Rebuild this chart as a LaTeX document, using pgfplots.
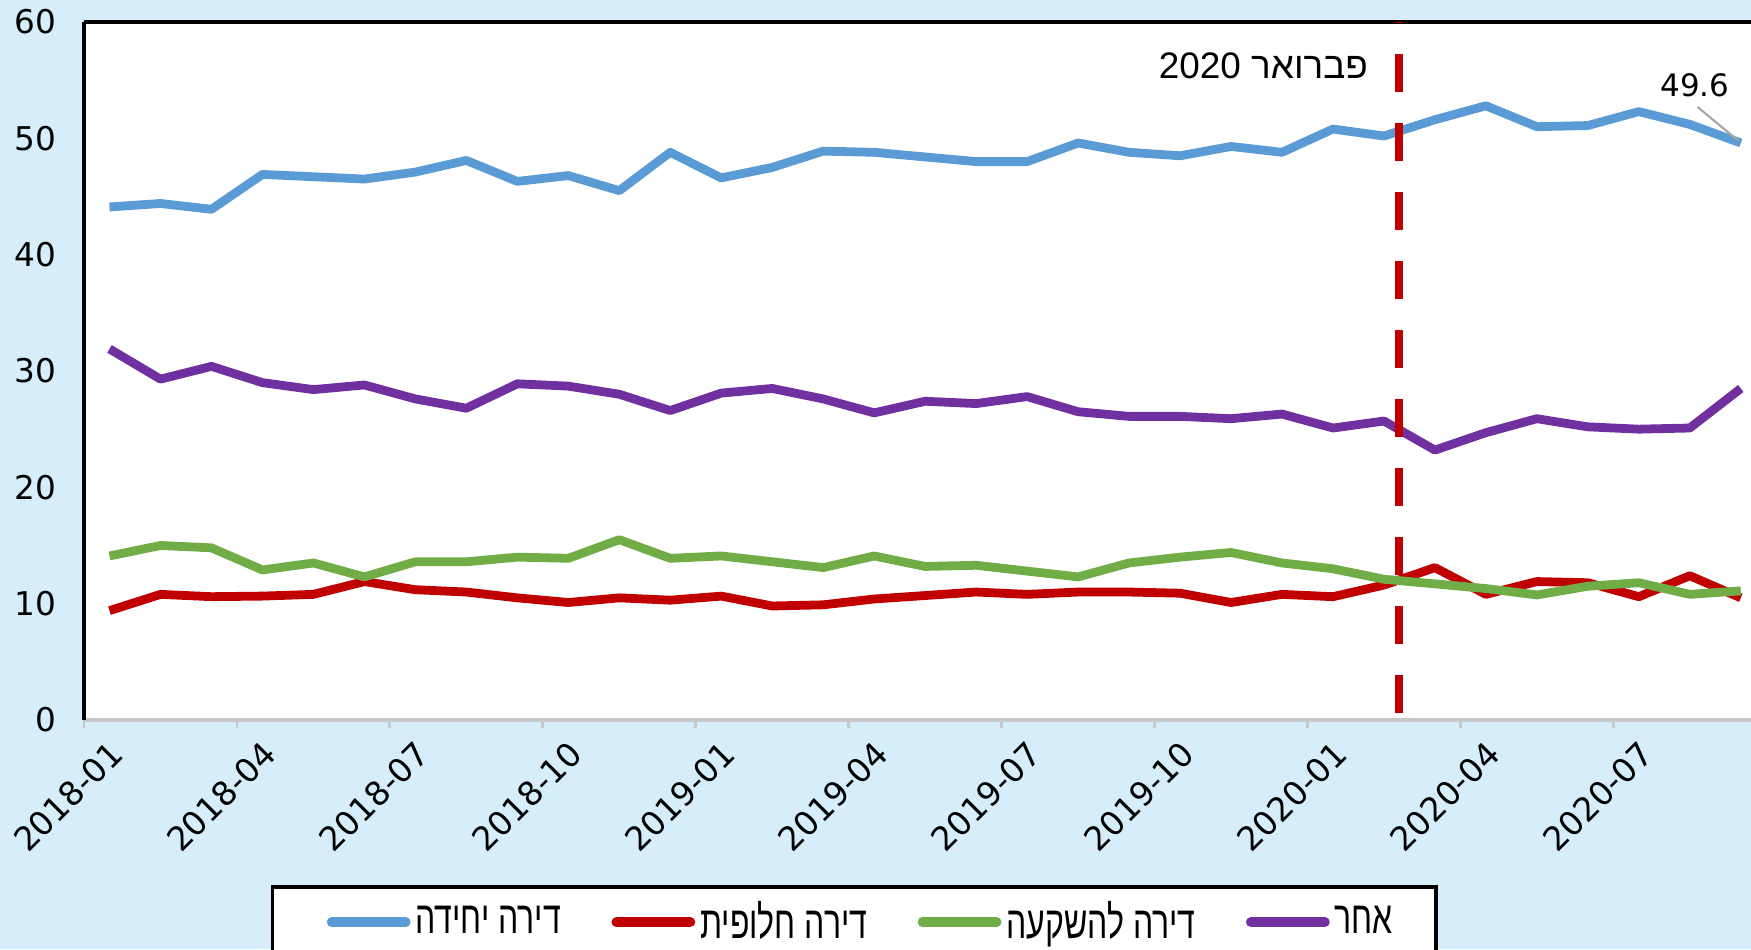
\documentclass[border=0pt]{standalone}
\usepackage{pgfplots}
\usepackage{pgfplotstable}
\pgfplotsset{compat=1.18}
\usepackage{fontspec}
\setmainfont{DejaVu Sans}
\newfontfamily\hebfont[Script=Hebrew]{Liberation Sans}
\newfontfamily\heblegfont[Script=Hebrew,FakeStretch=0.70]{Liberation Sans}
\TeXXeTstate=1
\definecolor{bgblue}{RGB}{213,238,250}
\definecolor{cblue}{RGB}{91,155,213}
\definecolor{cred}{RGB}{192,0,0}
\definecolor{cgreen}{RGB}{112,173,71}
\definecolor{cpurple}{RGB}{112,48,160}
\definecolor{axgray}{RGB}{200,200,200}

\pgfplotstableread{
x    blue  red   green  purple
0.5  44.1  9.4   14.1   31.9
1.5  44.4  10.8  15.0   29.3
2.5  43.9  10.6  14.8   30.4
3.5  46.9  10.65 12.9   29.0
4.5  46.7  10.8  13.5   28.4
5.5  46.5  11.9  12.3   28.8
6.5  47.1  11.2  13.6   27.6
7.5  48.1  11.0  13.6   26.8
8.5  46.3  10.5  14.0   28.9
9.5  46.8  10.1  13.9   28.7
10.5 45.5  10.5  15.5   28.0
11.5 48.8  10.3  13.9   26.6
12.5 46.6  10.65 14.1   28.1
13.5 47.5  9.8   13.6   28.5
14.5 48.9  9.9   13.1   27.6
15.5 48.8  10.4  14.1   26.4
16.5 48.4  10.7  13.2   27.4
17.5 48.0  11.0  13.3   27.2
18.5 48.0  10.8  12.8   27.8
19.5 49.6  11.0  12.3   26.5
20.5 48.8  11.0  13.5   26.1
21.5 48.5  10.9  14.0   26.1
22.5 49.3  10.1  14.4   25.9
23.5 48.8  10.8  13.5   26.3
24.5 50.8  10.6  13.0   25.1
25.5 50.2  11.6  12.1   25.7
26.5 51.6  13.1  11.7   23.2
27.5 52.8  10.8  11.3   24.7
28.5 51.0  11.9  10.75  25.9
29.5 51.1  11.8  11.5   25.2
30.5 52.3  10.6  11.8   25.0
31.5 51.2  12.4  10.8   25.1
32.5 49.6  10.5  11.1   28.5
}\datatable

\begin{document}
\begin{tikzpicture}
\useasboundingbox (0,0) rectangle (175.1mm,94.9mm);
\fill[bgblue] (0,0) rectangle (175.1mm,94.9mm);
\begin{scope}
\clip (0,0) rectangle (175.1mm,94.9mm);
\begin{axis}[
  at={(8.4mm,22.9mm)}, anchor=south west,
  scale only axis, width=166.7mm, height=69.8mm,
  xmin=0, xmax=32.7, ymin=0, ymax=60,
  clip=false,
  axis background/.style={fill=white},
  axis x line*=bottom, axis y line*=left,
  x axis line style={draw=axgray, line width=1pt, -},
  y axis line style={draw=black, line width=0.9pt, -},
  xtick={0,3,...,30},
  xticklabels={2018-01,2018-04,2018-07,2018-10,2019-01,2019-04,2019-07,2019-10,2020-01,2020-04,2020-07},
  x tick style={draw=axgray, line width=0.8pt},
  tick align=outside,
  x tick label style={font=\fontsize{9.4}{10}\selectfont, xshift=4.2mm, yshift=-1.1mm, rotate=45, anchor=east},
  xtick pos=bottom,
  ytick={0,10,...,60},
  y tick style={draw=none},
  major tick length=0.8mm,
  y tick label style={font=\fontsize{9.3}{10}\selectfont, xshift=-0.7mm},
  /pgf/number format/assume math mode=true,
  legend columns=4,
  legend style={at={(0.112,-0.237)}, anchor=north west, draw=black, line width=0.9pt, fill=white,
    inner xsep=3.8mm, inner ysep=0.9mm,
    nodes={inner xsep=0.5mm, inner ysep=0.5mm},
    /tikz/every even column/.append style={column sep=2.9mm},
    font=\heblegfont\fontsize{13}{14}\selectfont},
  legend image code/.code={\path (-1.7mm,0mm); \draw[#1, line width=2.8pt, line cap=round] (0mm,0mm) -- (7.4mm,0mm);},
  every axis plot/.append style={line width=2.5pt, line join=round},
]
\addplot[cblue, mark=none] table[x=x, y=blue] {\datatable};
\addlegendentry{\beginR דירה יחידה\endR}
\addplot[cred, mark=none] table[x=x, y=red] {\datatable};
\addlegendentry{\beginR דירה חלופית\endR}
\addplot[cgreen, mark=none] table[x=x, y=green] {\datatable};
\addlegendentry{\beginR דירה להשקעה\endR}
\addplot[cpurple, mark=none] table[x=x, y=purple] {\datatable};
\addlegendentry{\beginR אחר\endR}
\draw[black, line width=0.9pt] (rel axis cs:0,1) -- (rel axis cs:1,1);
\draw[cred, line width=2.4pt, dash pattern=on 3.8mm off 3.1mm, dash phase=6.2mm] (axis cs:25.8,0) -- (axis cs:25.8,60);
\node[anchor=east, font=\hebfont\fontsize{10.5}{12}\selectfont, inner sep=0pt] at (axis cs:25.2,56.2) {\beginR פברואר 2020\endR};
\draw[gray!70, line width=0.6pt] (axis cs:31.65,52.7) -- (axis cs:32.45,49.8);
\node[font=\fontsize{8.8}{10}\selectfont, inner sep=0pt] at (axis cs:31.6,54.6) {49.6};
\end{axis}
\end{scope}
\end{tikzpicture}
\end{document}
